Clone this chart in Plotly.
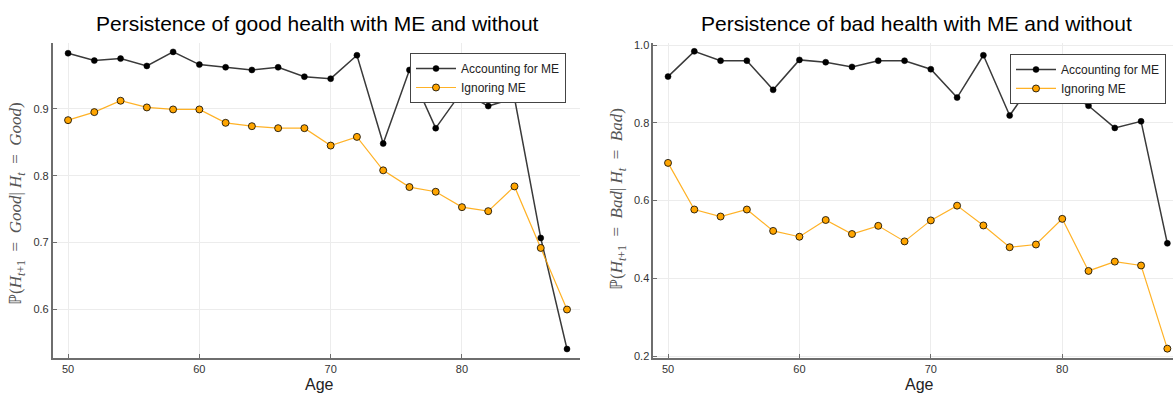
import plotly.graph_objects as go

ages = [50, 52, 54, 56, 58, 60, 62, 64, 66, 68, 70, 72, 74, 76, 78, 80, 82, 84, 86, 88]

good_me = [0.983, 0.972, 0.975, 0.964, 0.985, 0.966, 0.962, 0.958, 0.962, 0.948,
           0.945, 0.980, 0.848, 0.958, 0.871, 0.926, 0.904, 0.916, 0.707, 0.541]
good_nome = [0.883, 0.895, 0.912, 0.902, 0.899, 0.899, 0.879, 0.874, 0.871, 0.871,
             0.845, 0.858, 0.808, 0.783, 0.776, 0.753, 0.747, 0.784, 0.692, 0.600]

bad_me = [0.919, 0.984, 0.960, 0.960, 0.885, 0.962, 0.956, 0.944, 0.960, 0.960,
          0.938, 0.865, 0.974, 0.819, 0.915, 0.887, 0.844, 0.787, 0.804, 0.490]
bad_nome = [0.697, 0.577, 0.559, 0.577, 0.522, 0.507, 0.550, 0.514, 0.535, 0.495,
            0.549, 0.587, 0.536, 0.480, 0.487, 0.553, 0.419, 0.443, 0.433, 0.219]

series_names = ["Accounting for ME", "Ignoring ME"]
titles = ["Persistence of good health with ME and without",
          "Persistence of bad health with ME and without"]
ylabels = ["ℙ(<i>H</i><sub><i>t</i>+1</sub>  =  <i>Good</i>| <i>H</i><sub><i>t</i></sub>  =  <i>Good</i>)",
           "ℙ(<i>H</i><sub><i>t</i>+1</sub>  =  <i>Bad</i>| <i>H</i><sub><i>t</i></sub>  =  <i>Bad</i>)"]
xticks = [50, 60, 70, 80]
yticks_left = [0.6, 0.7, 0.8, 0.9]
yticks_right = [0.2, 0.4, 0.6, 0.8, 1.0]

W, H = 1173, 396
FONT = "Liberation Sans"
AXC = "#6e6e6e"
GRID = "#ececec"

fig = go.Figure()

def add_pair(me, nome, xa, ya, leg):
    fig.add_trace(go.Scatter(
        x=ages, y=me, name=series_names[0], mode="lines+markers",
        line=dict(color="#3a3a3a", width=1.5),
        marker=dict(color="black", size=6, line=dict(color="black", width=0.5)),
        xaxis=xa, yaxis=ya, legend=leg))
    fig.add_trace(go.Scatter(
        x=ages, y=nome, name=series_names[1], mode="lines+markers",
        line=dict(color="rgba(255,165,0,0.85)", width=1.2),
        marker=dict(color="#FFA500", size=7, line=dict(color="black", width=0.8)),
        xaxis=xa, yaxis=ya, legend=leg))

add_pair(good_me, good_nome, "x", "y", "legend")
add_pair(bad_me, bad_nome, "x2", "y2", "legend2")

def xax(domain, rng, anchor):
    return dict(domain=domain, range=rng, anchor=anchor, tickvals=xticks,
                showline=True, linecolor=AXC, linewidth=1.6, mirror=False,
                ticks="inside", ticklen=4, tickcolor=AXC, tickwidth=1,
                showgrid=True, gridcolor=GRID, gridwidth=1, zeroline=False,
                tickfont=dict(family=FONT, size=11, color="#333"))

def yax(domain, rng, anchor, ticks, fmt):
    return dict(domain=domain, range=rng, anchor=anchor, tickvals=ticks,
                tickformat=fmt,
                showline=True, linecolor=AXC, linewidth=1.6, mirror=False,
                ticks="inside", ticklen=4, tickcolor=AXC, tickwidth=1,
                showgrid=True, gridcolor=GRID, gridwidth=1, zeroline=False,
                tickfont=dict(family=FONT, size=11, color="#333"))

def leg(x, y):
    return dict(x=x, y=y, xanchor="left", yanchor="top",
                bgcolor="white", bordercolor="#444", borderwidth=1,
                font=dict(family=FONT, size=12, color="#222"),
                tracegroupgap=0, itemwidth=40)

ydom = [1 - 361 / H, 1 - 40 / H]
fig.update_layout(
    width=W, height=H,
    margin=dict(l=0, r=0, t=0, b=0),
    paper_bgcolor="white", plot_bgcolor="white",
    xaxis=xax([52.7 / W, 580 / W], [48.83, 88.99], "y"),
    yaxis=yax(ydom, [0.528, 0.998], "x", yticks_left, ".1f"),
    xaxis2=xax([653.3 / W, 1.0], [48.88, 88.43], "y2"),
    yaxis2=yax(ydom, [0.1957, 1.005], "x2", yticks_right, ".1f"),
    legend=leg(410 / W, 1 - 50 / H),
    legend2=leg(1010 / W, 1 - 51 / H),
    showlegend=True,
)

ann = []
for cx, t in zip([317, 917], titles):
    ann.append(dict(text=t, x=cx / W, y=1 - 20 / H, xref="paper", yref="paper",
                    xanchor="center", yanchor="middle", showarrow=False,
                    font=dict(family=FONT, size=21, color="black")))
for cx in [319, 919]:
    ann.append(dict(text="Age", x=cx / W, y=1 - 388 / H, xref="paper", yref="paper",
                    xanchor="center", yanchor="middle", showarrow=False,
                    font=dict(family=FONT, size=16, color="#222")))
for cx, cy, t in zip([17, 618], [204, 199], ylabels):
    ann.append(dict(text=t, x=cx / W, y=1 - cy / H, xref="paper", yref="paper",
                    xanchor="center", yanchor="middle", showarrow=False, textangle=-90,
                    font=dict(family="Liberation Serif", size=17, color="#555")))
fig.update_layout(annotations=ann)

fig.write_html("out.html")
